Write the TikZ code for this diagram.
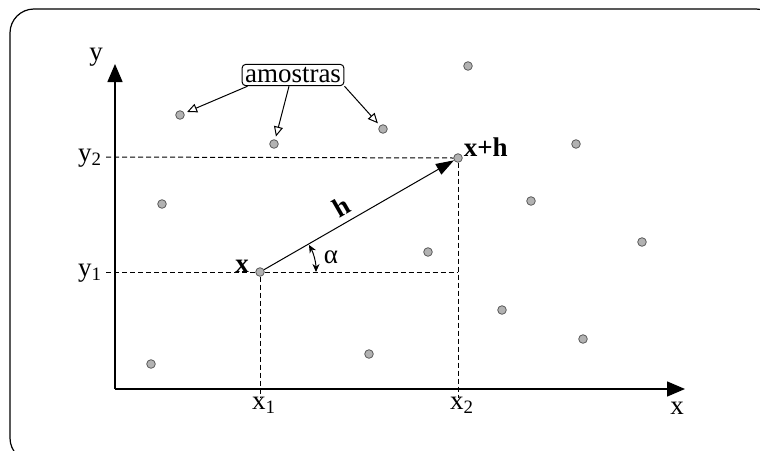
\documentclass[tikz,border=0pt]{standalone}
\usepackage{fontspec}
\setmainfont{Liberation Serif}
\usetikzlibrary{arrows.meta,positioning,calc}

\begin{document}
\begin{tikzpicture}[
    x=0.5pt, y=-0.5pt,
    >={Triangle[length=9pt, width=7.5pt]},
    line width=0.5pt,
    sample/.style={circle, draw=gray!70!black, fill=gray!60, line width=0.4pt, inner sep=0pt, minimum size=4.3pt},
    lbl/.style={font=\fontsize{13.5}{15}\selectfont, inner sep=1pt},
    boldlbl/.style={font=\fontsize{13.5}{15}\selectfont\bfseries, inner sep=1pt},
    guide/.style={dash pattern=on 2.5pt off 1.5pt},
    pointer/.style={-{Triangle[open, length=5pt, width=4.5pt]}, shorten >=1.5pt}
]

    % frame, cut by the page
    \useasboundingbox (0,0) rectangle (760,450);
    \draw[line width=0.6pt, rounded corners=12pt] (10,9) rectangle (780,462);

    \coordinate (O)    at (115,389);
    \coordinate (Xend) at (685,389);
    \coordinate (Yend) at (115,64);

    % samples
    \node[sample] (px)  at (260,272) {};
    \node[sample] (pxh) at (458,158) {};
    \foreach \n/\p in {s1/{(180,115)}, s2/{(274,144)}, s3/{(383,129)}, s4/{(468,66)},
                       s5/{(576,144)}, s6/{(162,204)}, s7/{(531,201)}, s8/{(428,252)},
                       s9/{(642,242)}, s10/{(502,310)}, s11/{(583,339)}, s12/{(151,364)},
                       s13/{(369,354)}}
        \node[sample] (\n) at \p {};

    % guides
    \coordinate (y1t) at (106,272);
    \coordinate (y2t) at (106,157);
    \coordinate (x1t) at (260,398);
    \coordinate (x2t) at (458,398);
    \draw[guide] (y2t) -- (pxh.west);
    \draw[guide] (y1t) -- (px.west);
    \draw[guide] (px.east) -- (px -| pxh);
    \draw[guide] (pxh.south) -- (x2t);
    \draw[guide] (px.south) -- (x1t);

    % axes
    \draw[->, line width=0.7pt] (O) -- (Xend);
    \draw[->, line width=0.7pt] (O) -- (Yend);
    \node[lbl] (xlab) at (677,408) {x};
    \node[lbl] (ylab) at (96,57) {y};
    \node[lbl] (x1lab) at (264,405) {x\textsubscript{1}};
    \node[lbl] (x2lab) at (462,405) {x\textsubscript{2}};
    \node[lbl] (y1lab) at (90,273) {y\textsubscript{1}};
    \node[lbl] (y2lab) at (90,158) {y\textsubscript{2}};

    % vector h
    \draw[-{Triangle[length=9pt, width=6pt]}] (px) -- (pxh)
        node[boldlbl, pos=0.45, above=2pt, sloped] (hlab) {h};
    \node[boldlbl, left=2pt of px, yshift=3pt] (xptlab) {x};
    \node[boldlbl, above right=-2pt and 0pt of pxh] (xhlab) {x+h};

    % angle
    \draw[{Stealth[length=4pt, width=3.5pt]}-{Stealth[length=4pt, width=3.5pt]}]
        ($(px.center)+(56,0)$) arc[start angle=0, end angle=-29, radius=56];
    \node[lbl] (alab) at (331,257) {α};

    % label for the samples
    \node[lbl, draw, rounded corners=2pt, inner sep=1.5pt] (amostras) at (293,75) {amostras};
    \draw[pointer] ([xshift=3pt]amostras.south west) -- (s1);
    \draw[pointer] ([xshift=-2pt]amostras.south) -- (s2);
    \draw[pointer] (amostras.south east) -- (s3);

\end{tikzpicture}
\end{document}
